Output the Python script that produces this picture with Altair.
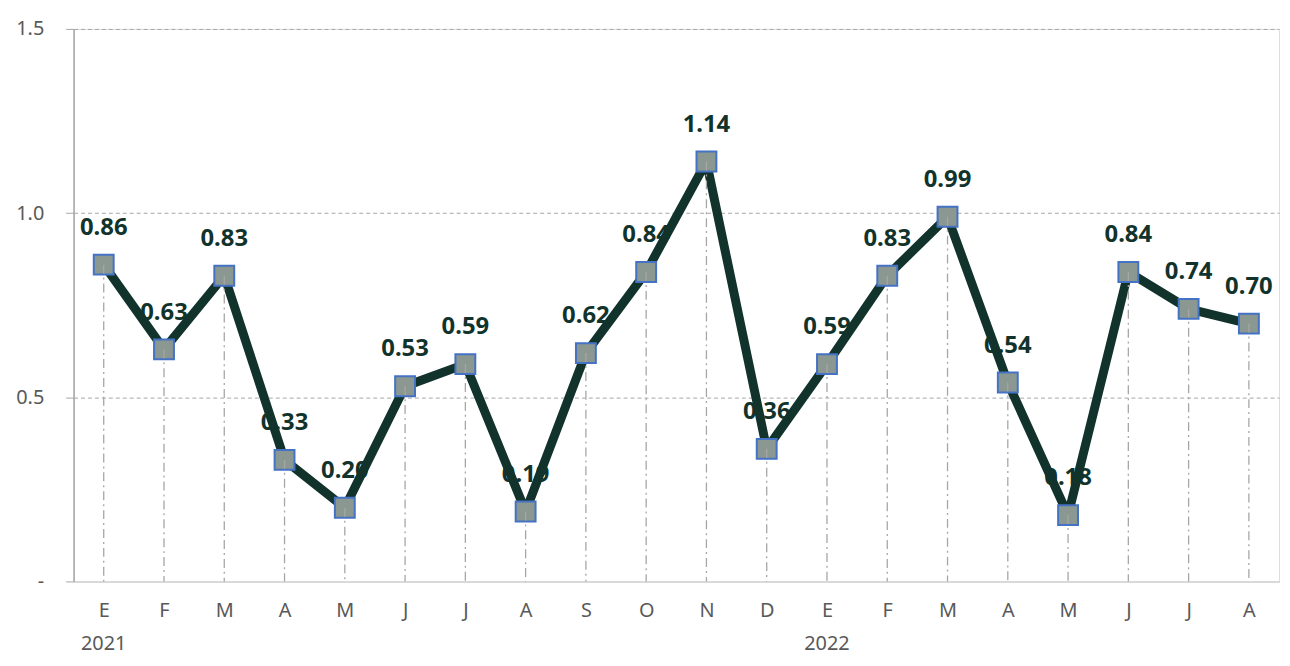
import altair as alt
import pandas as pd

months = ["E", "F", "M", "A", "M", "J", "J", "A", "S", "O", "N", "D",
          "E", "F", "M", "A", "M", "J", "J", "A"]
years = ["2021", "", "", "", "", "", "", "", "", "", "", "",
         "2022", "", "", "", "", "", "", ""]
values = [0.86, 0.63, 0.83, 0.33, 0.20, 0.53, 0.59, 0.19, 0.62, 0.84, 1.14, 0.36,
          0.59, 0.83, 0.99, 0.54, 0.18, 0.84, 0.74, 0.70]

keys = [f"{i:02d}" for i in range(len(months))]
df = pd.DataFrame({"key": keys, "month": months, "year": years, "value": values,
                   "label": [f"{v:.2f}" for v in values], "zero": 0.0})

label_map = "{" + ",".join(f"'{k}':'{m}'" for k, m in zip(keys, months)) + "}"

FONT = "Noto Sans"
LINE = "#12332B"
GRAY = "#595959"

x = alt.X("key:N", scale=alt.Scale(type="point", padding=0.5), sort=keys,
          axis=alt.Axis(title=None, labelExpr=f"{label_map}[datum.value]", labelAngle=0,
                        ticks=False, domainColor="#D9D9D9", domainWidth=2,
                        labelFont=FONT, labelFontSize=20, labelColor=GRAY,
                        labelPadding=19, grid=False))
y = alt.Y("value:Q", scale=alt.Scale(domain=[0, 1.5], nice=False, zero=True),
          axis=alt.Axis(title=None, values=[0, 0.5, 1.0, 1.5],
                        labelExpr="datum.value == 0 ? '-' : format(datum.value, '.1f')",
                        labelFont=FONT, labelFontSize=20, labelColor=GRAY,
                        labelPadding=22, tickSize=8, tickColor="#A6A6A6",
                        domainColor="#A6A6A6", domainWidth=1.5,
                        grid=True, gridColor="#A6A6A6", gridDash=[4, 3], gridWidth=1))

base = alt.Chart(df).encode(x=x)

drops = base.mark_rule(color="#A6A6A6", strokeWidth=1.3, strokeDash=[9, 4, 2, 4]).encode(
    y=alt.Y("value:Q", scale=alt.Scale(domain=[0, 1.5], nice=False)), y2="zero:Q")

labels = base.mark_text(fontSize=24, fontWeight="bold", font=FONT, color=LINE, dy=-37).encode(
    y="value:Q", text="label:N")

squares = base.mark_point(shape="square", filled=True, size=400, fill="#8B9791",
                          stroke="#4472C4", strokeWidth=2, opacity=1).encode(y="value:Q")

line = base.mark_line(color=LINE, strokeWidth=9, strokeCap="round", strokeJoin="round").encode(
    y=y)

yrs = base.mark_text(font=FONT, fontSize=20, color=GRAY, baseline="middle").encode(
    y=alt.value(619), text="year:N")

chart = alt.layer(line, labels, squares, drops, yrs).properties(
    width=1213, height=556,
    autosize=alt.AutoSizeParams(type="none"),
    padding={"left": 66, "top": 19, "right": 3, "bottom": 80},
).configure_view(stroke=None).configure(background="white")

chart.save("out.html", embed_options={"renderer": "svg", "actions": False})
